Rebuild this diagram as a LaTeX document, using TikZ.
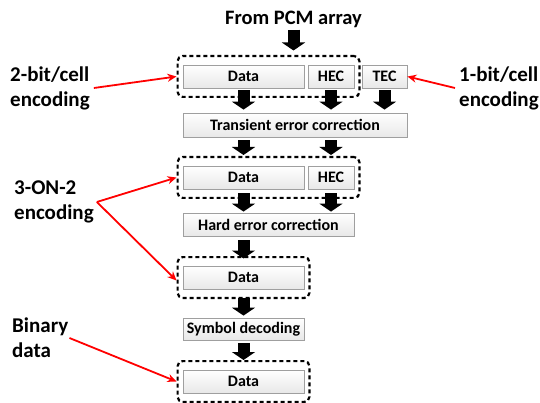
\documentclass[tikz,border=0pt]{standalone}
\usepackage{fontspec}
\setmainfont{Carlito}
\usetikzlibrary{arrows.meta,fit,shadings}
\begin{document}
\begin{tikzpicture}[x=1pt,y=-1pt,
 box/.style={draw=gray!75, line width=0.8pt, top color=white, bottom color=gray!18, minimum height=23pt, inner sep=0pt, font=\bfseries\fontsize{16}{18}\selectfont},
 grp/.style={draw, line width=2.2pt, dash pattern=on 4pt off 3pt, rounded corners=5pt, inner xsep=5pt, inner ysep=8.5pt},
 blk/.style={line width=12pt, -{Triangle[width=23pt,length=8pt]}},
 lbl/.style={font=\bfseries\fontsize{21}{25}\selectfont, align=left, anchor=west, inner sep=0pt},
 callout/.style={draw=red, line width=1.8pt, -{Stealth[length=9pt,width=8pt]}}
]
\useasboundingbox (0,0) rectangle (540,403);
\node[font=\bfseries\fontsize{20.5}{24}\selectfont, inner sep=0pt] (src) at (293.5,19) {From PCM array};

\node[box, minimum width=121pt] (d1) at (243.5,76.5) {Data};
\node[box, minimum width=46pt] (h1) at (331,76.5) {HEC};
\node[box, minimum width=45pt] (tec) at (384.5,76.5) {TEC};
\node[box, minimum width=224pt, minimum height=24pt] (tr) at (295,125) {Transient error correction};
\node[box, minimum width=121pt] (d2) at (243.5,177.5) {Data};
\node[box, minimum width=46pt] (h2) at (331,177.5) {HEC};
\node[box, minimum width=171pt] (hd) at (268.5,224.5) {Hard error correction};
\node[box, minimum width=121pt] (d3) at (243.5,277.5) {Data};
\node[box, minimum width=121pt, minimum height=22pt] (sy) at (243.5,329) {Symbol decoding};
\node[box, minimum width=121pt] (d4) at (243.5,381.5) {Data};

\node[grp, fit=(d1)(h1)] (g1) {};
\node[grp, fit=(d2)(h2)] (g2) {};
\node[grp, fit=(d3)] (g3) {};
\node[grp, fit=(d4)] (g4) {};

\draw[blk] ([yshift=-2pt]src.south) -- ([yshift=4.5pt]src.south |- g1.north);
\draw[blk] ([yshift=-2pt]d1.south) -- ([yshift=3pt]d1.south |- tr.north);
\draw[blk] ([yshift=-2pt]h1.south) -- ([yshift=3pt]h1.south |- tr.north);
\draw[blk] ([yshift=-2pt]tec.south) -- ([yshift=3pt]tec.south |- tr.north);
\draw[blk] ([yshift=-3pt]tr.south -| d2.north) -- ([yshift=1pt]d2.north |- g2.north);
\draw[blk] ([yshift=-3pt]tr.south -| h2.north) -- ([yshift=1pt]h2.north |- g2.north);
\draw[blk] ([yshift=-4pt]d2.south) -- ([yshift=1pt]d2.south |- hd.north);
\draw[blk] ([yshift=-4pt]h2.south) -- ([yshift=1pt]h2.south |- hd.north);
\draw[blk] ([yshift=-4pt]hd.south -| d3.north) -- ([yshift=-2.5pt]g3.north);
\draw[blk] ([yshift=-9pt]d3.south) -- ([yshift=2pt]sy.north);
\draw[blk] ([yshift=-3pt]sy.south) -- ([yshift=0pt]g4.north);

\node[lbl] (l2) at (10,88) {2-bit/cell\\encoding};
\node[lbl] (l1) at (459,88) {1-bit/cell\\encoding};
\node[lbl] (l3) at (14,202) {3-ON-2\\encoding};
\node[lbl] (lb) at (12,338) {Binary\\data};

\draw[callout] ([xshift=4pt]l2.east) -- (g1.west);
\draw[callout] ([xshift=-4pt]l1.west) -- (tec.east);
\draw[callout] ([xshift=3pt]l3.east) -- (g2.west);
\draw[callout] ([xshift=3pt]l3.east) -- ([yshift=-3pt]g3.west);
\draw[callout] ([xshift=1pt]lb.east) -- (g4.west);
\end{tikzpicture}
\end{document}
